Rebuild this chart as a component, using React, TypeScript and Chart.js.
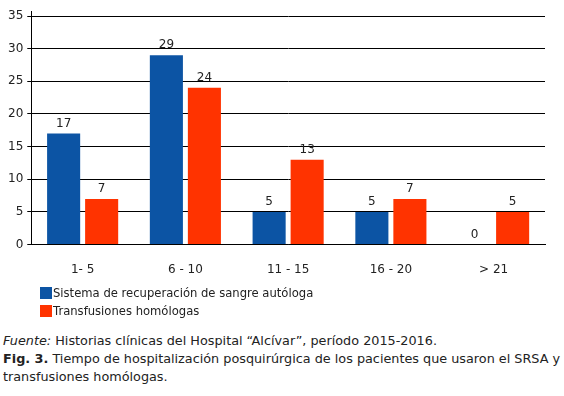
import React, { useEffect, useRef } from "react";
import { Chart, registerables } from "chart.js";

Chart.register(...registerables);

const categories = ["1- 5", "6 - 10", "11 - 15", "16 - 20", "> 21"];
const seriesNames = ["Sistema de recuperación de sangre autóloga", "Transfusiones homólogas"];
const autologa = [17, 29, 5, 5, 0];
const homologas = [7, 24, 13, 7, 5];
const yTicks = [0, 5, 10, 15, 20, 25, 30, 35];
const colors = ["#0C54A4", "#FF3300"];

const FONT = "'DejaVu Sans', Verdana, sans-serif";

const valueLabels = {
  id: "valueLabels",
  afterDatasetsDraw(chart: any) {
    const ctx = chart.ctx;
    ctx.save();
    ctx.font = `12px ${FONT}`;
    ctx.fillStyle = "#222";
    ctx.textAlign = "center";
    ctx.textBaseline = "bottom";
    chart.data.datasets.forEach((ds: any, i: number) => {
      const meta = chart.getDatasetMeta(i);
      meta.data.forEach((bar: any, j: number) => {
        ctx.fillText(String(ds.data[j]), bar.x, bar.y - 4);
      });
    });
    // small extension of the y axis line above the top gridline
    const { left, top } = chart.chartArea;
    ctx.strokeStyle = "#000";
    ctx.lineWidth = 1;
    ctx.beginPath();
    ctx.moveTo(Math.round(left) + 0.5, top - 5);
    ctx.lineTo(Math.round(left) + 0.5, top);
    ctx.stroke();
    ctx.restore();
  },
};

export default function App() {
  const ref = useRef<HTMLCanvasElement>(null);
  useEffect(() => {
    if (!ref.current) return;
    const chart = new Chart(ref.current, {
      type: "bar",
      data: {
        labels: categories,
        datasets: [
          { label: seriesNames[0], data: autologa, backgroundColor: colors[0] },
          { label: seriesNames[1], data: homologas, backgroundColor: colors[1] },
        ],
      },
      options: {
        animation: false,
        responsive: false,
        maintainAspectRatio: false,
        layout: { padding: { left: 4, right: 19, top: 16, bottom: 0 } },
        plugins: { legend: { display: false }, tooltip: { enabled: false } },
        datasets: { bar: { categoryPercentage: 0.74, barPercentage: 0.87 } },
        scales: {
          x: {
            grid: { display: false, drawTicks: false },
            border: { color: "#000", width: 1 },
            ticks: { color: "#222", font: { family: FONT, size: 12 }, padding: 18 },
          },
          y: {
            min: 0,
            max: 35,
            afterBuildTicks: (axis: any) => {
              axis.ticks = yTicks.map((v) => ({ value: v }));
            },
            grid: { color: "#000", lineWidth: 1, tickLength: 4 },
            border: { color: "#000", width: 1 },
            ticks: { color: "#222", font: { family: FONT, size: 12 }, padding: 4 },
          },
        },
      } as any,
      plugins: [valueLabels],
    });
    return () => chart.destroy();
  }, []);

  const textStyle: React.CSSProperties = {
    fontFamily: FONT,
    color: "#222",
    whiteSpace: "nowrap",
  };

  return (
    <div style={{ position: "absolute", left: 0, top: 0, width: 564, height: 396, background: "#fff" }}>
      <canvas ref={ref} width={564} height={295} style={{ position: "absolute", left: 0, top: 0 }} />
      {seriesNames.map((n, i) => (
        <div key={n} style={{ ...textStyle, fontSize: 11.6, position: "absolute", left: 40, top: 285 + i * 18, lineHeight: "16px", display: "flex", alignItems: "center" }}>
          <span style={{ display: "inline-block", width: 12, height: 12, background: colors[i], marginRight: 1 }} />
          {n}
        </div>
      ))}
      <div style={{ ...textStyle, fontSize: 12.8, position: "absolute", left: 3, top: 332, lineHeight: "18px" }}>
        <div><i>Fuente:</i> Historias clínicas del Hospital “Alcívar”, período 2015-2016.</div>
        <div><b>Fig. 3.</b> Tiempo de hospitalización posquirúrgica de los pacientes que usaron el SRSA y</div>
        <div>transfusiones homólogas.</div>
      </div>
    </div>
  );
}
